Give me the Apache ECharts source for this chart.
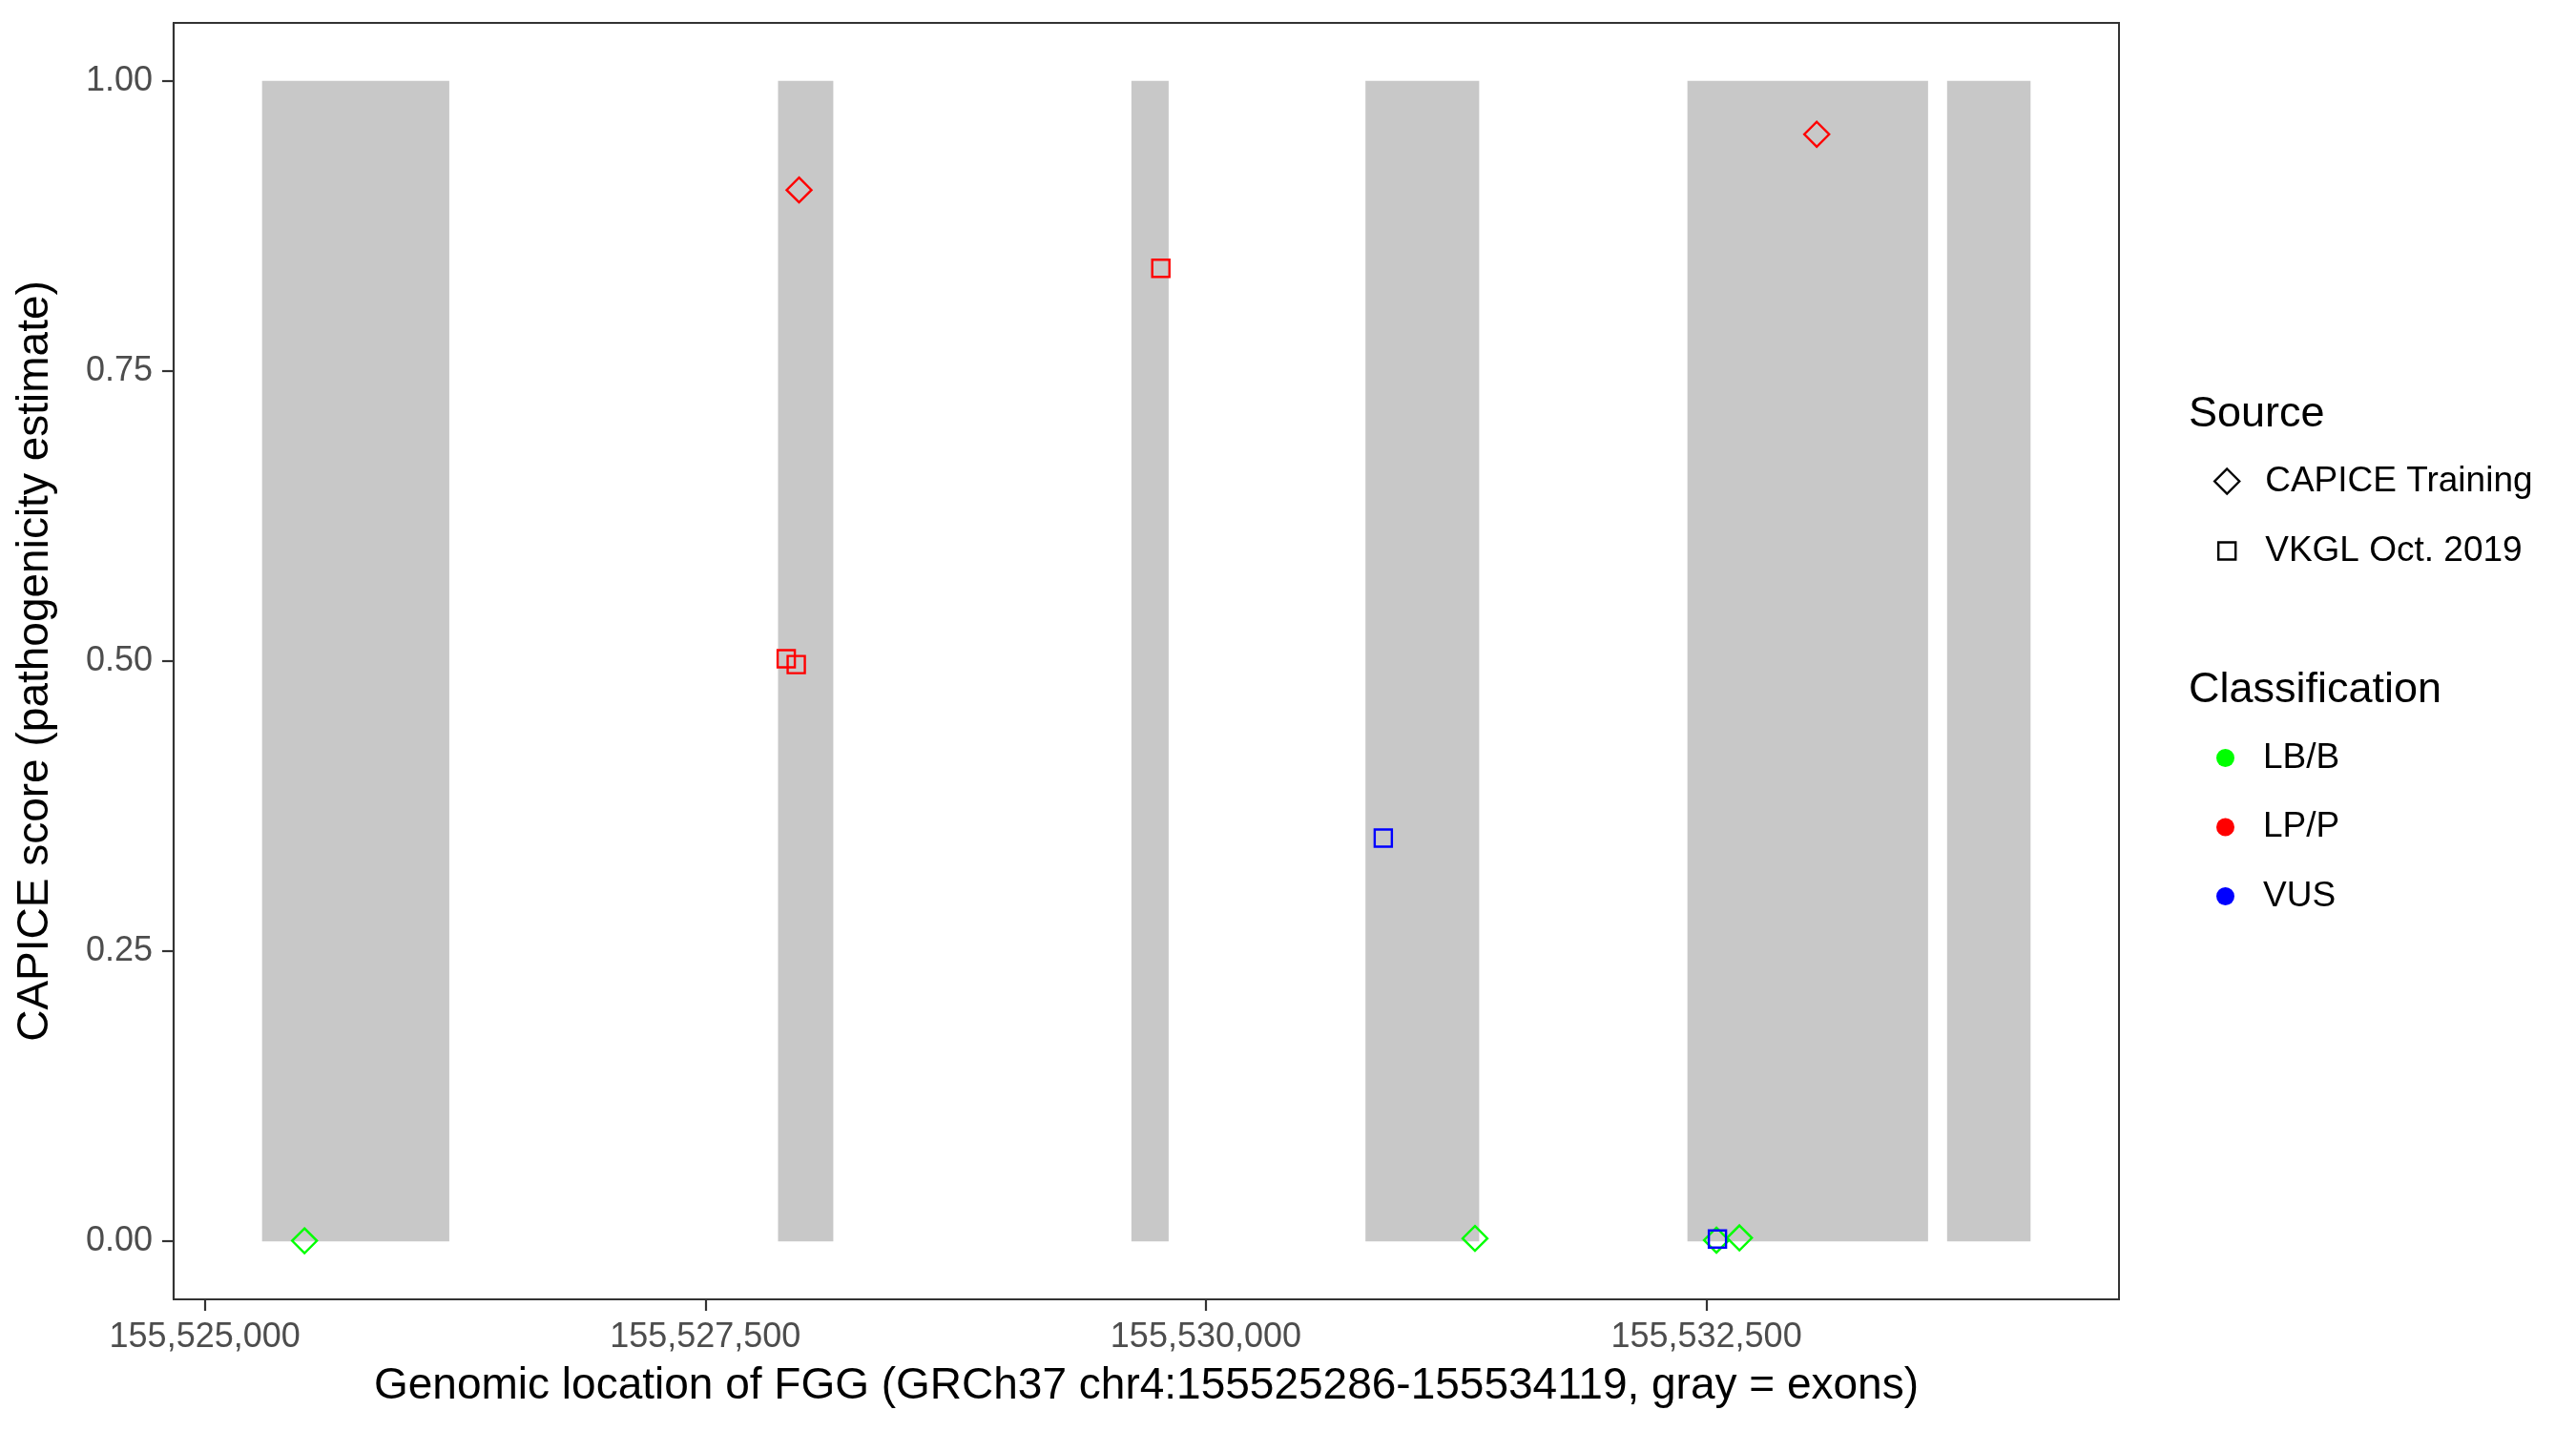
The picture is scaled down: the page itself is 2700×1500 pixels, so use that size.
<!DOCTYPE html>
<html>
<head>
<meta charset="utf-8">
<title>FGG CAPICE scores</title>
<script src="https://cdn.jsdelivr.net/npm/echarts@6/dist/echarts.min.js"></script>
<style>
  html, body { margin: 0; padding: 0; background: #fff; }
  #main { width: 2700px; height: 1500px; }
</style>
</head>
<body>
<div id="main"></div>
<script>
// exons of FGG (gray boxes), genomic start / end
var exonStart = [155525286, 155527863, 155529628, 155530797, 155532405, 155533702];
var exonEnd   = [155526221, 155528139, 155529814, 155531365, 155533607, 155534119];

// CAPICE training variants (diamonds)
var capicePos   = [155525498, 155527968, 155531344, 155532550, 155532665, 155533051];
var capiceScore = [0.0005, 0.906, 0.0025, 0.001, 0.003, 0.954];
var capiceClass = ['LB/B', 'LP/P', 'LB/B', 'LB/B', 'LB/B', 'LP/P'];

// VKGL Oct. 2019 variants (squares)
var vkglPos   = [155527904, 155527954, 155529775, 155530886, 155532555];
var vkglScore = [0.502, 0.497, 0.8385, 0.3475, 0.002];
var vkglClass = ['LP/P', 'LP/P', 'LP/P', 'VUS', 'VUS'];

var classNames  = ['LB/B', 'LP/P', 'VUS'];
var classColors = ['#00FF00', '#FF0000', '#0000FF'];

var xTicks = [155525000, 155527500, 155530000, 155532500];
var yTicks = [0, 0.25, 0.5, 0.75, 1];

var FONT = 'Liberation Sans, Arial, sans-serif';

function colorOf(cls) {
  return classColors[classNames.indexOf(cls)];
}

function points(pos, score, cls) {
  return pos.map(function (p, i) {
    return { value: [p, score[i]], itemStyle: { borderColor: colorOf(cls[i]) } };
  });
}

// ggplot style 5% expansion of the data range
var lo = Math.min.apply(null, exonStart);
var hi = Math.max.apply(null, exonEnd);
var pad = (hi - lo) * 0.05;

var chart = echarts.init(document.getElementById('main'));

var series = [
  {
    name: 'exons',
    type: 'custom',
    z: 1,
    silent: true,
    encode: { x: [0, 1], y: [2, 3] },
    data: exonStart.map(function (s, i) { return [s, exonEnd[i], 0, 1]; }),
    renderItem: function (params, api) {
      var a = api.coord([api.value(0), api.value(3)]);
      var b = api.coord([api.value(1), api.value(2)]);
      return {
        type: 'rect',
        shape: { x: a[0], y: a[1], width: b[0] - a[0], height: b[1] - a[1] },
        style: { fill: '#C8C8C8' }
      };
    }
  },
  {
    name: 'CAPICE Training',
    type: 'scatter',
    z: 3,
    symbol: 'diamond',
    symbolSize: 26,
    itemStyle: { color: 'rgba(0,0,0,0)', borderWidth: 2.4, opacity: 1 },
    data: points(capicePos, capiceScore, capiceClass)
  },
  {
    name: 'VKGL Oct. 2019',
    type: 'scatter',
    z: 4,
    symbol: 'rect',
    symbolSize: 18,
    itemStyle: { color: 'rgba(0,0,0,0)', borderWidth: 2.4, opacity: 1 },
    data: points(vkglPos, vkglScore, vkglClass)
  }
];

// empty series only to feed the colour legend
classNames.forEach(function (c, i) {
  series.push({ name: c, type: 'scatter', symbol: 'circle', data: [], itemStyle: { color: classColors[i], opacity: 1 } });
});

var legendText = { fontFamily: FONT, fontSize: 37, color: '#000' };
var axisLineStyle = { color: '#333333', width: 2.2 };

chart.setOption({
  animation: false,
  backgroundColor: '#fff',
  textStyle: { fontFamily: FONT },
  grid: {
    left: 182, right: 479, top: 24, bottom: 138,
    show: true, borderColor: '#333333', borderWidth: 2, backgroundColor: '#fff'
  },
  xAxis: {
    type: 'value',
    min: lo - pad,
    max: hi + pad,
    name: 'Genomic location of FGG (GRCh37 chr4:155525286-155534119, gray = exons)',
    nameLocation: 'middle',
    nameGap: 68,
    nameTextStyle: { fontFamily: FONT, fontSize: 46, color: '#000' },
    axisLine: { show: true, onZero: false, lineStyle: axisLineStyle },
    splitLine: { show: false },
    axisTick: { show: true, inside: false, length: 12, customValues: xTicks, lineStyle: axisLineStyle },
    axisLabel: {
      customValues: xTicks,
      margin: 22,
      fontFamily: FONT, fontSize: 36, color: '#4D4D4D',
      formatter: function (v) { return String(v).replace(/\B(?=(\d{3})+(?!\d))/g, ','); }
    }
  },
  yAxis: {
    type: 'value',
    min: -0.05,
    max: 1.05,
    name: 'CAPICE score (pathogenicity estimate)',
    nameLocation: 'middle',
    nameGap: 122,
    nameTextStyle: { fontFamily: FONT, fontSize: 46, color: '#000' },
    axisLine: { show: true, onZero: false, lineStyle: axisLineStyle },
    splitLine: { show: false },
    axisTick: { show: true, inside: false, length: 12, customValues: yTicks, lineStyle: axisLineStyle },
    axisLabel: {
      customValues: yTicks,
      margin: 22,
      fontFamily: FONT, fontSize: 36, color: '#4D4D4D',
      formatter: function (v) { return v.toFixed(2); }
    }
  },
  legend: [
    {
      orient: 'vertical', left: 2315, top: 481,
      itemWidth: 26, itemHeight: 26,
      selectedMode: false,
      textStyle: Object.assign({ padding: [0, 0, 0, 22] }, legendText),
      data: [{ name: 'CAPICE Training', icon: 'diamond',
               itemStyle: { color: 'rgba(0,0,0,0)', borderColor: '#000', borderWidth: 2.4 } }]
    },
    {
      orient: 'vertical', left: 2319, top: 554,
      itemWidth: 18, itemHeight: 18,
      selectedMode: false,
      textStyle: Object.assign({ padding: [0, 0, 0, 26] }, legendText),
      data: [{ name: 'VKGL Oct. 2019', icon: 'rect',
               itemStyle: { color: 'rgba(0,0,0,0)', borderColor: '#000', borderWidth: 2.4 } }]
    },
    {
      orient: 'vertical', left: 2318, top: 771,
      itemWidth: 19, itemHeight: 19, itemGap: 35.5,
      selectedMode: false,
      textStyle: Object.assign({ padding: [0, 0, 0, 25] }, legendText),
      data: classNames.map(function (c) { return { name: c, icon: 'circle' }; })
    }
  ],
  graphic: [
    { type: 'text', left: 2294, top: 412, style: { text: 'Source', fontFamily: FONT, fontSize: 45, fill: '#000' } },
    { type: 'text', left: 2294, top: 701, style: { text: 'Classification', fontFamily: FONT, fontSize: 45, fill: '#000' } }
  ],
  series: series
});
</script>
</body>
</html>
